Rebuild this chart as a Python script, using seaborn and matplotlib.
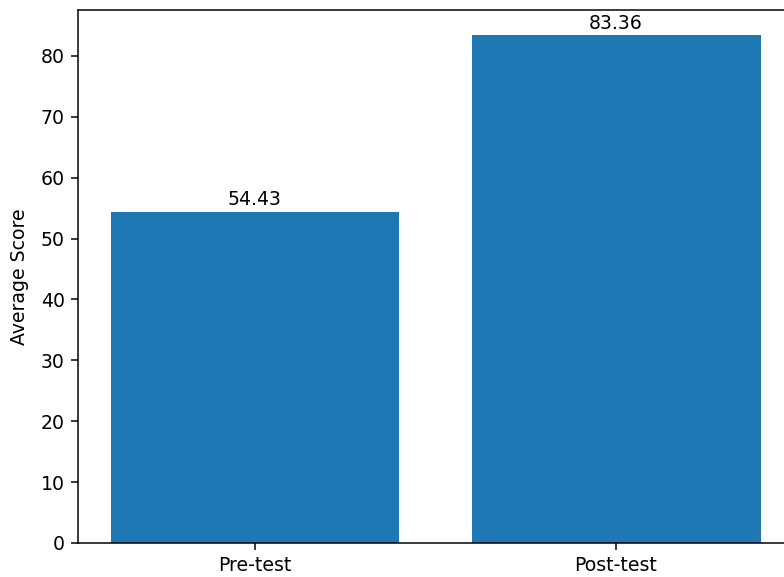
import matplotlib
matplotlib.use('Agg')
import matplotlib.pyplot as plt
import pandas as pd
import seaborn as sns

tests = ['Pre-test', 'Post-test']
avg_scores = [54.43, 83.36]

df = pd.DataFrame({'Test': tests, 'Average Score': avg_scores})

dpi = 136
fig = plt.figure(figsize=(784 / dpi, 577 / dpi), dpi=dpi)
# the reference is cropped on the right, so the axes run past the figure edge
ax = fig.add_axes([78 / 784, 34 / 577, 715 / 784, 533 / 577])

sns.barplot(data=df, x='Test', y='Average Score', color='#1f77b4',
            saturation=1, width=0.8, ax=ax)
ax.set_xlim(-0.49, 1.49)
ax.set_ylim(0, max(avg_scores) * 1.05)
ax.set_xlabel('')
ax.set_ylabel('Average Score', labelpad=6)

ax.bar_label(ax.containers[0], fmt='%.2f', padding=1.5)

fig.savefig('out.png', dpi=dpi)
